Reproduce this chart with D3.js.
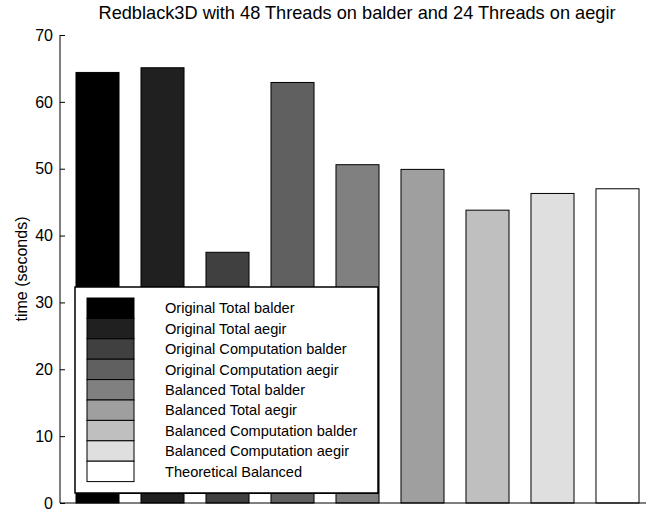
<!DOCTYPE html>
<html lang="en">
  <head>
    <meta charset="UTF-8" />
    <title>Redblack3D</title>
    <style>
      body { margin: 0; background: #fff; }
      text { font-family: "Liberation Sans", Arial, sans-serif; }
    </style>
  </head>
  <body>
    <main></main>

    <script src="https://cdn.jsdelivr.net/npm/d3@7/dist/d3.min.js"></script>
    <script>

      // data
      var categories = [
        "Original Total balder",
        "Original Total aegir",
        "Original Computation balder",
        "Original Computation aegir",
        "Balanced Total balder",
        "Balanced Total aegir",
        "Balanced Computation balder",
        "Balanced Computation aegir",
        "Theoretical Balanced"
      ];
      var times = [64.4, 65.1, 37.5, 62.9, 50.6, 49.9, 43.8, 46.3, 47.0];
      var grays = ["#000000", "#202020", "#404040", "#606060", "#808080",
                   "#9f9f9f", "#bfbfbf", "#dfdfdf", "#ffffff"];
      var yTicks = [0, 10, 20, 30, 40, 50, 60, 70];

      var W = 646, H = 512;
      var margin = { top: 35, right: -9, bottom: 9, left: 60 };
      var w = W - margin.left - margin.right,
          h = H - margin.top - margin.bottom;

      var svg = d3.select("main").append("svg")
                  .attr("width", W)
                  .attr("height", H);

      var xScale = d3.scaleBand()
                     .domain(categories)
                     .range([margin.left, margin.left + w])
                     .paddingInner(0.338)
                     .paddingOuter(0.246);
      var yScale = d3.scaleLinear()
                     .domain([0, 70])
                     .range([margin.top + h, margin.top]);

      // bars
      svg.selectAll("rect.bars")
         .data(times)
         .enter()
         .append("rect")
         .attr("class", "bars")
         .attr("fill", function(d, i) { return grays[i]; })
         .attr("stroke", "#000")
         .attr("stroke-width", 1)
         .attr("x", function(d, i) { return xScale(categories[i]); })
         .attr("y", function(d) { return yScale(d); })
         .attr("width", xScale.bandwidth())
         .attr("height", function(d) { return yScale(0) - yScale(d); });

      // y axis, ticks inward like matlab
      var yAxis = d3.axisRight(yScale)
                    .tickValues(yTicks)
                    .tickSize(5)
                    .tickFormat("");
      var gy = svg.append("g")
         .attr("class", "y-axis")
         .attr("transform", "translate(" + margin.left + ",0)")
         .call(yAxis);
      gy.select(".domain").attr("d", "M0," + yScale(70) + "V" + yScale(0));
      gy.selectAll("line").attr("stroke", "#000");

      svg.selectAll("text.ytick")
         .data(yTicks)
         .enter()
         .append("text")
         .attr("class", "ytick")
         .attr("x", margin.left - 7)
         .attr("y", function(d) { return yScale(d); })
         .attr("dy", "0.36em")
         .attr("text-anchor", "end")
         .attr("font-size", 16)
         .text(function(d) { return d; });

      // x axis line
      svg.append("line")
         .attr("x1", margin.left)
         .attr("x2", margin.left + w)
         .attr("y1", yScale(0))
         .attr("y2", yScale(0))
         .attr("stroke", "#000");

      // labels
      svg.append("text")
         .attr("text-anchor", "middle")
         .attr("x", 357)
         .attr("y", 19)
         .attr("font-size", 18.2)
         .text("Redblack3D with 48 Threads on balder and 24 Threads on aegir");
      svg.append("text")
         .attr("text-anchor", "middle")
         .attr("transform", "translate(27," + (margin.top + h / 2) + ")rotate(-90)")
         .attr("font-size", 16)
         .text("time (seconds)");

      // legend
      var lx = 75, ly = 287, lw = 303, lh = 206;
      var lg = svg.append("g").attr("class", "legend");
      lg.append("rect")
        .attr("x", lx + 1).attr("y", ly + 1)
        .attr("width", lw).attr("height", lh)
        .attr("fill", "#000");
      lg.append("rect")
        .attr("x", lx).attr("y", ly)
        .attr("width", lw).attr("height", lh)
        .attr("fill", "#fff")
        .attr("stroke", "#000")
        .attr("stroke-width", 1.5);

      var rowH = 20.4;
      var rows = lg.selectAll("g.row")
        .data(categories)
        .enter()
        .append("g")
        .attr("class", "row")
        .attr("transform", function(d, i) { return "translate(0," + (298 + i * rowH) + ")"; });
      rows.append("rect")
          .attr("x", 87).attr("y", 0)
          .attr("width", 47).attr("height", rowH)
          .attr("fill", function(d, i) { return grays[i]; })
          .attr("stroke", "#000")
          .attr("stroke-width", 1);
      rows.append("text")
          .attr("x", 165)
          .attr("y", rowH / 2)
          .attr("dy", "0.36em")
          .attr("font-size", 14.6)
          .text(function(d) { return d; });

    </script>
  </body>
</html>
